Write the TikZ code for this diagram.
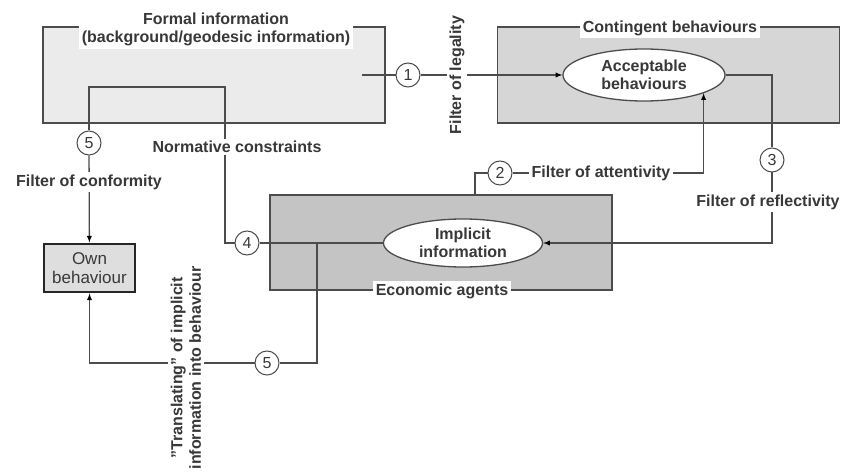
\documentclass[tikz,border=0pt]{standalone}
\usepackage{fontspec}
\setmainfont{Liberation Sans}
\usetikzlibrary{positioning,shapes,arrows}

\begin{document}
\begin{tikzpicture}[x=1pt,y=-1pt,
		every node/.style={font=\fontsize{16}{18.5}\selectfont\bfseries,text=black!78,align=center},
		area/.style={draw=black!70,line width=1.3pt,minimum width=342pt,minimum height=96pt},
		tag/.style={fill=white,inner sep=2.5pt},
		num/.style={circle,draw=black!70,line width=1pt,fill=white,minimum size=24pt,inner sep=0pt,font=\fontsize{16}{16}\selectfont},
		oval/.style={ellipse,draw=black!70,line width=1.3pt,fill=white,inner sep=0pt},
		link/.style={draw=black!70,line width=1.3pt}]
			\useasboundingbox (0,0) rectangle (841,476);
			\node[area,fill=black!8] (formal) at (214,75) {};
			\node[area,fill=black!16] (cont) at (668.5,75) {};
			\node[area,fill=black!23,minimum height=95pt] (econ) at (441,242.5) {};
			\node[draw=black!85,line width=2.8pt,fill=black!13,minimum width=91pt,minimum height=48pt,
				font=\fontsize{17}{19}\selectfont] (own) at (89.5,268) {Own\\behaviour};
			\node[oval,minimum width=162pt,minimum height=52pt] (accept) at (644,75) {Acceptable\\behaviours};
			\node[oval,minimum width=159pt,minimum height=48pt] (impl) at (463,243) {Implicit\\information};
			\node[num] (f1) at (408,75) {1};
			\node[num] (f2) at (500,173) {2};
			\node[num] (f3) at (772,160) {3};
			\node[num] (f4) at (247,243) {4};
			\node[num] (f5) at (89,143) {5};
			\node[num] (f5b) at (267,363) {5};
			\coordinate (src) at (362,75);
			\coordinate (j1) at (225,87);
			\coordinate (j2) at (317,243);
			\path[link]
			(src) -- (f1)
			(accept.east) -| (f3)
			(econ.north -| 475,0) |- (f2)
			(f5) |- (j1) |- (f4)
			(f4) -- (impl)
			(j2) |- (f5b);
			\path[link,-latex]
			(f1) edge (accept)
			(f3) edge[to path={|- (\tikztotarget)}] (impl.east)
			(f2) edge[to path={-| (\tikztotarget)}] (accept.-17)
			(f5) edge (own)
			(f5b) edge[to path={-| (\tikztotarget)}] (own);
			\node[tag] (ftitle) at (216,29.5) {Formal information\\(background/geodesic information)};
			\node[tag] (ctitle) at (670,28) {Contingent behaviours};
			\node[tag] (etitle) at (442,291) {Economic agents};
			\node[tag,rotate=90] (legal) at (457,75) {Filter of legality};
			\node[tag] (norm) at (237,147) {Normative constraints};
			\node[tag] (conf) at (89,182) {Filter of conformity};
			\node[tag] (attent) at (601,173) {Filter of attentivity};
			\node[tag] (reflect) at (768,202) {Filter of reflectivity};
			\node[tag,rotate=90] (transl) at (186,368) {"Translating" of implicit\\information into behaviour};
		\end{tikzpicture}
\end{document}
